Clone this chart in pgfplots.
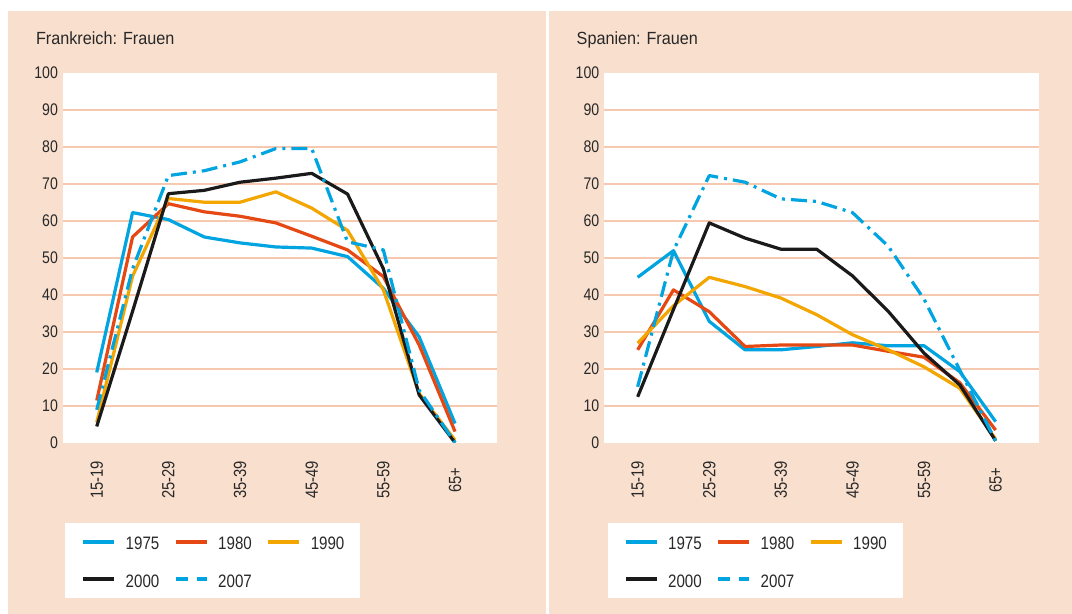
\documentclass[border=0pt]{standalone}
\usepackage{fontspec}
\setmainfont{Liberation Sans}
\newfontfamily\cond{Liberation Sans}[FakeStretch=0.84]
\newfontfamily\titlefont{Liberation Sans}[FakeStretch=0.92]
\usepackage{pgfplots}
\usepackage{pgfplotstable}
\pgfplotsset{compat=1.18}
\definecolor{peach}{RGB}{249,223,206}
\definecolor{gridc}{RGB}{246,200,175}
\definecolor{c75}{RGB}{0,164,224}
\definecolor{c80}{RGB}{229,72,18}
\definecolor{c90}{RGB}{243,165,0}
\definecolor{c00}{RGB}{26,26,26}
\definecolor{txt}{RGB}{40,40,40}

\pgfplotstableread{
x  a75  a80  a90  a00  a07
0  19.0 11.4 5.5  4.4  8.9
1  62.2 55.6 45.0 35.5 47.0
2  60.3 64.6 66.0 67.3 72.2
3  55.6 62.4 65.0 68.2 73.5
4  54.0 61.2 65.0 70.4 75.9
5  52.9 59.4 67.8 71.5 79.5
6  52.6 55.8 63.4 72.8 79.5
7  50.3 52.1 57.4 67.2 54.3
8  41.7 44.9 41.3 47.0 52.1
9  28.6 26.4 13.3 12.9 14.2
10 5.2  3.0  0.7  0.0  0.0
}\frankreich

\pgfplotstableread{
x  a75  a80  a90  a00  a07
0  44.7 25.1 26.9 12.4 15.1
1  51.9 41.3 37.0 36.0 51.9
2  32.8 35.4 44.7 59.4 72.2
3  25.1 26.0 42.2 55.3 70.4
4  25.1 26.4 39.1 52.3 65.9
5  26.0 26.4 34.6 52.3 65.2
6  27.0 26.4 29.2 45.1 62.2
7  26.2 24.7 25.1 35.5 53.1
8  26.2 23.1 20.5 24.2 38.8
9  19.2 16.2 14.7 15.6 19.6
10 5.7  3.4  1.0  0.5  0.5
}\spanien

\pgfplotsset{
  panel/.style={
    width=217.3pt, height=185pt, scale only axis,
    ymin=0, ymax=100, ytick={0,10,...,100},
    extra y ticks={10,20,...,90}, extra y tick labels={},
    extra y tick style={grid=major},
    major grid style={gridc, line width=1.1pt},
    xtick={0,2,...,10}, xticklabels={15-19,25-29,35-39,45-49,55-59,65+},
    axis line style={draw=none}, major tick length=0pt,
    axis background/.style={fill=white},
    /pgf/number format/assume math mode=true,
    tick label style={font=\cond\fontsize{8.4}{9}\selectfont, text=txt, inner sep=0pt},
    yticklabel style={anchor=east}, yticklabel shift=2.2pt,
    xticklabel style={rotate=90, anchor=center, font=\cond\fontsize{8.8}{9}\selectfont}, xticklabel shift=18.65pt,
    every axis plot/.append style={line width=1.6pt, mark=none, line join=round},
    legend columns=3,
    legend image code/.code={\draw[#1, line width=2pt] (0pt,0pt) -- (15.5pt,0pt);},
    legend style={draw=none, fill=white, inner xsep=8pt, inner ysep=5.2pt, anchor=north west,
      font=\cond\fontsize{9}{9}\selectfont, text=txt,
      nodes={inner sep=0pt, text height=8.45pt, text depth=0pt},
      row sep=10.4pt,
      /tikz/every odd column/.append style={column sep=4.65pt},
      /tikz/every even column/.append style={column sep=7.3pt}},
    legend cell align=left,
  },
  s75/.style={c75},
  s80/.style={c80},
  s90/.style={c90},
  s00/.style={c00},
  s07/.style={c75, dash pattern=on 8pt off 3pt on 1.5pt off 3pt,
     legend image code/.code={\draw[##1, line width=2pt, dash pattern=on 6pt off 4.3pt] (0pt,0pt) -- (15.5pt,0pt);}},
}

\begin{document}
\begin{tikzpicture}
\path[use as bounding box, fill=white] (0,0) rectangle (536pt,-307pt);
\fill[peach] (4pt,-5.5pt) rectangle (273pt,-307pt);
\fill[peach] (274.5pt,-5.5pt) rectangle (536pt,-307pt);
\node[anchor=base west, font=\titlefont\fontsize{8.8}{10}\selectfont, text=txt, inner sep=0pt] at (17.85pt,-22.5pt) {Frankreich: Frauen};
\node[anchor=base west, font=\titlefont\fontsize{8.8}{10}\selectfont, text=txt, inner sep=0pt] at (288.15pt,-22.5pt) {Spanien: Frauen};

\begin{axis}[panel, at={(31.35pt,-221.35pt)}, anchor=south west, xmin=-0.95, xmax=11.18,
  legend style={at={(axis description cs:0.0053,-0.215)}}]
\addplot[s75] table[x=x,y=a75] {\frankreich}; \addlegendentry{1975}
\addplot[s80] table[x=x,y=a80] {\frankreich}; \addlegendentry{1980}
\addplot[s90] table[x=x,y=a90] {\frankreich}; \addlegendentry{1990}
\addplot[s00] table[x=x,y=a00] {\frankreich}; \addlegendentry{2000}
\addplot[s07] table[x=x,y=a07] {\frankreich}; \addlegendentry{2007}
\end{axis}

\begin{axis}[panel, at={(302pt,-221.35pt)}, anchor=south west, xmin=-0.94, xmax=11.2,
  legend style={at={(axis description cs:0.008,-0.215)}}]
\addplot[s75] table[x=x,y=a75] {\spanien}; \addlegendentry{1975}
\addplot[s80] table[x=x,y=a80] {\spanien}; \addlegendentry{1980}
\addplot[s90] table[x=x,y=a90] {\spanien}; \addlegendentry{1990}
\addplot[s00] table[x=x,y=a00] {\spanien}; \addlegendentry{2000}
\addplot[s07] table[x=x,y=a07] {\spanien}; \addlegendentry{2007}
\end{axis}
\end{tikzpicture}
\end{document}
